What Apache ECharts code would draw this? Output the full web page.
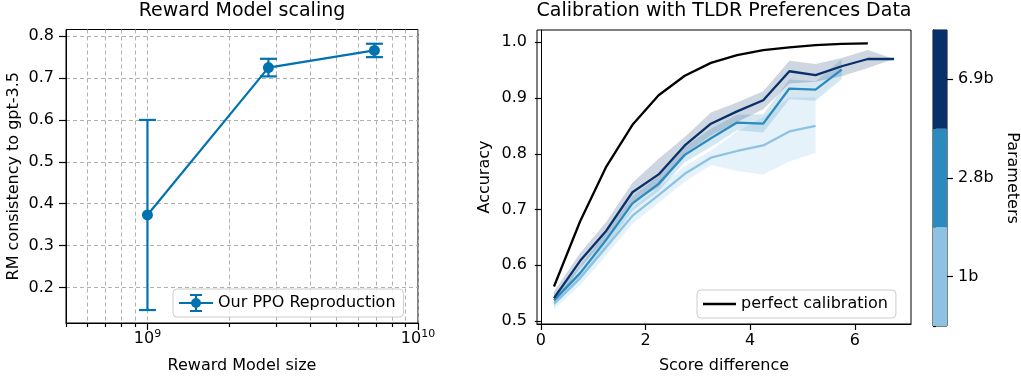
<!DOCTYPE html>
<html>
<head>
<meta charset="utf-8">
<script src="https://cdn.jsdelivr.net/npm/echarts@6/dist/echarts.min.js"></script>
<style>
  html, body { margin: 0; padding: 0; background: #fff; }
  #chart { width: 1021px; height: 379px; }
</style>
</head>
<body>
<div id="chart"></div>
<script>
// ---- Reward model scaling ----
const rmSizes = [1e9, 2.8e9, 6.9e9];
const rmConsistency = [0.373, 0.725, 0.766];
const rmError = [0.227, 0.021, 0.016];
const rmYTicks = [0.2, 0.3, 0.4, 0.5, 0.6, 0.7, 0.8];
const rmXMajor = [1e9, 1e10];
const rmXMinor = [5e8, 6e8, 7e8, 8e8, 9e8, 2e9, 3e9, 4e9, 5e9, 6e9, 7e9, 8e9, 9e9];

// ---- Calibration with TLDR preferences ----
const scoreBins = [0.25, 0.75, 1.25, 1.75, 2.25, 2.75, 3.25, 3.75, 4.25, 4.75, 5.25, 5.75, 6.25, 6.75];
const perfectCalibration = [0.562, 0.679, 0.777, 0.852, 0.905, 0.940, 0.963, 0.977, 0.986, 0.991, 0.995, 0.997, 0.998];

const acc1b     = [0.531, 0.577, 0.633, 0.689, 0.726, 0.764, 0.793, 0.805, 0.815, 0.840, 0.850];
const acc1bLow  = [0.521, 0.564, 0.618, 0.674, 0.712, 0.750, 0.780, 0.769, 0.763, 0.786, 0.802];
const acc1bHigh = [0.542, 0.590, 0.648, 0.703, 0.740, 0.778, 0.806, 0.840, 0.866, 0.901, 0.901];

const acc2b8     = [0.537, 0.586, 0.646, 0.711, 0.746, 0.798, 0.828, 0.856, 0.854, 0.917, 0.915, 0.951];
const acc2b8Low  = [0.527, 0.574, 0.632, 0.698, 0.733, 0.785, 0.812, 0.842, 0.838, 0.898, 0.895, 0.934];
const acc2b8High = [0.548, 0.599, 0.660, 0.724, 0.760, 0.812, 0.845, 0.870, 0.871, 0.933, 0.930, 0.970];

const acc6b9     = [0.541, 0.608, 0.662, 0.731, 0.763, 0.815, 0.854, 0.876, 0.896, 0.948, 0.941, 0.957, 0.970, 0.970];
const acc6b9Low  = [0.530, 0.595, 0.648, 0.714, 0.740, 0.800, 0.833, 0.857, 0.880, 0.926, 0.929, 0.939, 0.954, 0.970];
const acc6b9High = [0.553, 0.622, 0.678, 0.748, 0.791, 0.830, 0.874, 0.892, 0.912, 0.967, 0.961, 0.972, 0.986, 0.970];

const calXTicks = [0, 2, 4, 6];
const calYTicks = [0.5, 0.6, 0.7, 0.8, 0.9, 1.0];
const modelSizes = ['1b', '2.8b', '6.9b'];

// palette
const modelColors = ['#8dc2e2', '#2b8bbf', '#08306b'];
const bandColors = ['rgba(141,194,226,0.22)', 'rgba(43,139,191,0.2)', 'rgba(8,48,107,0.2)'];
const FONT = 'DejaVu Sans';

const chart = echarts.init(document.getElementById('chart'), null, { renderer: 'canvas' });

const log10 = v => Math.log10(v);
const rmPoints = rmSizes.map((s, i) => [log10(s), rmConsistency[i]]);
const rmErrItems = rmSizes.map((s, i) => [log10(s), rmConsistency[i], rmError[i]]);

const modelSeries = [
  { name: modelSizes[0], y: acc1b, lo: acc1bLow, hi: acc1bHigh },
  { name: modelSizes[1], y: acc2b8, lo: acc2b8Low, hi: acc2b8High },
  { name: modelSizes[2], y: acc6b9, lo: acc6b9Low, hi: acc6b9High }
];

const series = [];

// confidence bands as one filled polygon per model
modelSeries.forEach((m, k) => {
  series.push({
    type: 'custom', xAxisIndex: 2, yAxisIndex: 2, z: 1, silent: true,
    data: m.lo.map((v, i) => [scoreBins[i], v, m.hi[i]]),
    renderItem: function (params, api) {
      if (params.dataIndex !== 0) return null;
      const upper = m.hi.map((v, i) => api.coord([scoreBins[i], v]));
      const lower = m.lo.map((v, i) => api.coord([scoreBins[i], v])).reverse();
      return {
        type: 'polygon',
        shape: { points: upper.concat(lower) },
        style: { fill: bandColors[k], stroke: null }
      };
    }
  });
});
modelSeries.forEach((m, k) => {
  series.push({
    type: 'line', xAxisIndex: 2, yAxisIndex: 2,
    data: m.y.map((v, i) => [scoreBins[i], v]),
    symbol: 'none', lineStyle: { color: modelColors[k], width: 2.3 }, z: 3
  });
});
series.push({
  name: 'perfect calibration',
  type: 'line', xAxisIndex: 2, yAxisIndex: 2,
  data: perfectCalibration.map((v, i) => [scoreBins[i], v]),
  symbol: 'none', lineStyle: { color: '#000', width: 2.3 }, itemStyle: { color: '#000' }, z: 3
});

// error bars
series.push({
  type: 'custom', xAxisIndex: 0, yAxisIndex: 0, z: 3,
  data: rmErrItems,
  renderItem: function (params, api) {
    const x = api.value(0), y = api.value(1), e = api.value(2);
    const top = api.coord([x, y + e]);
    const bot = api.coord([x, y - e]);
    const cap = 8.5;
    const style = { stroke: '#0072b2', lineWidth: 2.2 };
    return {
      type: 'group',
      children: [
        { type: 'line', shape: { x1: top[0], y1: top[1], x2: bot[0], y2: bot[1] }, style },
        { type: 'line', shape: { x1: top[0] - cap, y1: top[1], x2: top[0] + cap, y2: top[1] }, style },
        { type: 'line', shape: { x1: bot[0] - cap, y1: bot[1], x2: bot[0] + cap, y2: bot[1] }, style }
      ]
    };
  }
});
series.push({
  name: 'Our PPO Reproduction',
  type: 'line', xAxisIndex: 0, yAxisIndex: 0, z: 4,
  data: rmPoints,
  symbol: 'circle', symbolSize: 11,
  lineStyle: { color: '#0072b2', width: 2.2 },
  itemStyle: { color: '#0072b2' }
});

// colour bar
series.push({
  type: 'bar', xAxisIndex: 3, yAxisIndex: 3,
  data: modelSizes.map((s, i) => ({ value: 1, itemStyle: { color: modelColors[i] } })),
  barWidth: '100%', barCategoryGap: 0, silent: true
});

const tickFont = { fontFamily: FONT, fontSize: 16, color: '#000' };
const blackLine = { lineStyle: { color: '#000', width: 1 } };
const tickLine = { color: '#000', width: 1.2 };

const option = {
  animation: false,
  backgroundColor: '#fff',
  textStyle: { fontFamily: FONT },
  title: [
    { text: 'Reward Model scaling', left: 242, top: 2, textAlign: 'center', padding: 0,
      textStyle: { fontFamily: FONT, fontSize: 19, fontWeight: 'normal', color: '#000' } },
    { text: 'Calibration with TLDR Preferences Data', left: 724, top: 2, textAlign: 'center', padding: 0,
      textStyle: { fontFamily: FONT, fontSize: 19, fontWeight: 'normal', color: '#000' } }
  ],
  legend: [
    {
      data: [{ name: 'Our PPO Reproduction',
        icon: 'path://M0 8 L34 8 L34 10 L0 10 Z M16 1 L18 1 L18 17 L16 17 Z M11 0 L23 0 L23 2 L11 2 Z M11 16 L23 16 L23 18 L11 18 Z M17 4 A5 5 0 1 1 17 14 A5 5 0 1 1 17 4 Z' }],
      left: 173, top: 289, itemWidth: 34, itemHeight: 18, itemGap: 0, itemTextGap: 12,
      padding: [5, 8, 5, 6], borderColor: '#cccccc', borderWidth: 1, borderRadius: 4,
      backgroundColor: 'rgba(255,255,255,0.8)',
      textStyle: { fontFamily: FONT, fontSize: 16, color: '#000' },
      selectedMode: false
    },
    {
      data: [{ name: 'perfect calibration', icon: 'path://M0 0 L33 0 L33 2.4 L0 2.4 Z' }],
      left: 697, top: 290, itemWidth: 33, itemHeight: 2.4, itemGap: 0, itemTextGap: 12,
      padding: [6, 8, 6, 6], borderColor: '#cccccc', borderWidth: 1, borderRadius: 4,
      backgroundColor: 'rgba(255,255,255,0.8)',
      textStyle: { fontFamily: FONT, fontSize: 16, color: '#000', lineHeight: 16 },
      selectedMode: false
    }
  ],
  grid: [
    { left: 66, top: 29.5, width: 352, height: 295.5, show: true, borderColor: '#000', borderWidth: 1, backgroundColor: 'transparent' },
    { left: 537, top: 30, width: 374, height: 297, show: true, borderColor: '#000', borderWidth: 1, backgroundColor: 'transparent' },
    { left: 933, top: 30, width: 16, height: 296, show: true, borderColor: '#000', borderWidth: 1, backgroundColor: 'transparent' }
  ],
  xAxis: [
    { // 0: major decades
      type: 'value', gridIndex: 0, position: 'bottom', min: log10(5e8), max: 10,
      axisLine: blackLine,
      axisTick: { customValues: rmXMajor.map(log10), length: 7, lineStyle: tickLine },
      axisLabel: {
        customValues: rmXMajor.map(log10), margin: 6,
        formatter: v => '{b|10}{s|' + Math.round(v) + '}',
        rich: {
          b: { fontFamily: FONT, fontSize: 16, color: '#000', lineHeight: 18, padding: [4, 0, 0, 0], verticalAlign: 'bottom' },
          s: { fontFamily: FONT, fontSize: 11, color: '#000', lineHeight: 12, verticalAlign: 'top' }
        }
      },
      splitLine: { show: true, lineStyle: { color: '#b0b0b0', type: [4, 3], width: 1 } },
      name: 'Reward Model size', nameLocation: 'middle', nameGap: 35,
      nameTextStyle: { fontFamily: FONT, fontSize: 16, color: '#000' }
    },
    { // 1: minor positions
      type: 'value', gridIndex: 0, position: 'bottom', min: log10(5e8), max: 10,
      axisLine: { show: false },
      axisTick: { customValues: rmXMinor.map(log10), length: 4, lineStyle: tickLine },
      axisLabel: { show: false },
      splitLine: { show: true, lineStyle: { color: '#b0b0b0', type: [4, 3], width: 1 } }
    },
    { // 2: calibration
      type: 'value', gridIndex: 1, min: -0.075, max: 7.075,
      axisLine: blackLine,
      axisTick: { customValues: calXTicks, length: 6, lineStyle: tickLine },
      axisLabel: Object.assign({ customValues: calXTicks, margin: 9 }, tickFont),
      splitLine: { show: false },
      name: 'Score difference', nameLocation: 'middle', nameGap: 34,
      nameTextStyle: { fontFamily: FONT, fontSize: 16, color: '#000' }
    },
    { // 3: colour bar
      type: 'value', gridIndex: 2, min: 0, max: 1, show: false
    }
  ],
  yAxis: [
    {
      type: 'value', gridIndex: 0, min: 0.115, max: 0.816,
      axisLine: Object.assign({ show: true }, blackLine),
      axisTick: { show: true, customValues: rmYTicks, length: 7, lineStyle: tickLine },
      axisLabel: Object.assign({ customValues: rmYTicks, margin: 12, formatter: v => v.toFixed(1) }, tickFont),
      splitLine: { show: true, lineStyle: { color: '#b0b0b0', type: [4, 3], width: 1 } },
      name: 'RM consistency to gpt-3.5', nameLocation: 'middle', nameGap: 44,
      nameTextStyle: { fontFamily: FONT, fontSize: 16, color: '#000' }
    },
    { type: 'value', gridIndex: 0, min: 0.115, max: 0.816, show: false },
    {
      type: 'value', gridIndex: 1, min: 0.4947, max: 1.022,
      axisLine: Object.assign({ show: true }, blackLine),
      axisTick: { show: true, customValues: calYTicks, length: 6, lineStyle: tickLine },
      axisLabel: Object.assign({ customValues: calYTicks, margin: 10, formatter: v => v.toFixed(1) }, tickFont),
      splitLine: { show: false },
      name: 'Accuracy', nameLocation: 'middle', nameGap: 44,
      nameTextStyle: { fontFamily: FONT, fontSize: 16, color: '#000' }
    },
    { // colour bar labels and segment boundaries
      type: 'category', gridIndex: 2, position: 'right', data: modelSizes,
      axisLine: Object.assign({ show: true }, blackLine),
      axisTick: { show: true, length: 3, lineStyle: tickLine },
      axisLabel: Object.assign({ margin: 11 }, tickFont),
      splitLine: { show: false },
      name: 'Parameters', nameLocation: 'middle', nameGap: 57, nameRotate: -90,
      nameTextStyle: { fontFamily: FONT, fontSize: 16, color: '#000' }
    },
    { // colour bar label ticks at segment centres
      type: 'value', gridIndex: 2, position: 'right', min: 0, max: 3,
      axisLine: { show: false },
      axisTick: { show: true, customValues: [0.5, 1.5, 2.5], length: 6, lineStyle: tickLine },
      axisLabel: { show: false },
      splitLine: { show: false }
    }
  ],
  series: series
};

// calibration series use the second grid's y axis; colour bar uses its own
option.series.forEach(s => {
  if (s.xAxisIndex === 2) s.yAxisIndex = 2;
  if (s.xAxisIndex === 3) s.yAxisIndex = 3;
});

chart.setOption(option);
</script>
</body>
</html>
